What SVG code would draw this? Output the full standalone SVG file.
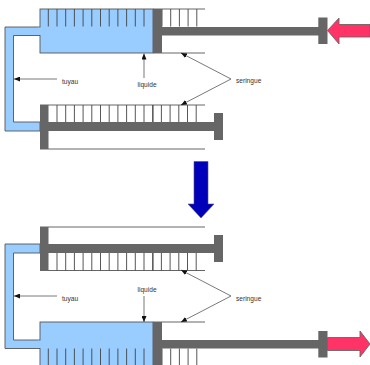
<svg xmlns="http://www.w3.org/2000/svg" width="370" height="365" viewBox="0 0 370 365">
<style>
.blue{fill:#99ccff;stroke:#555;stroke-width:.9}
.tube{fill:#99ccff;stroke:#555;stroke-width:.9}
.fill{fill:#99ccff;stroke:none}
.grey{fill:#666;stroke:none}
.wall{fill:none;stroke:#666;stroke-width:1}
.tick{stroke:#444;stroke-width:.9;fill:none}
.lead{stroke:#555;stroke-width:.8;fill:none}
.pink{fill:#ff3366;stroke:#666;stroke-width:.9}
text{font-family:"Liberation Sans",Arial,sans-serif;font-size:6.6px;fill:#333}
</style>
<defs>
<marker id="ah" markerUnits="userSpaceOnUse" markerWidth="6" markerHeight="5" refX="6" refY="2.5" orient="auto"><path d="M0 0L6 2.5L0 5Z" fill="#111"/></marker>
<path id="t12" d="M0 0v17.500M8.700 0v17.500M17.400 0v17.500M26.100 0v17.500M34.800 0v17.500M43.500 0v17.500M52.200 0v17.500M60.900 0v17.500M69.600 0v17.500M78.300 0v17.500M87 0v17.500M95.700 0v17.500"/>
<path id="t5" d="M0 0v17.500M8.700 0v17.500M17.400 0v17.500M26.100 0v17.500M34.800 0v17.500"/>
</defs>
<g id="tuyau-haut"><path class="tube" d="M40 27H5V131H40V122H13.500V35.500H40Z"/></g>
<g id="seringue-haut">
<rect class="blue" x="40" y="9" width="113" height="44"/>
<rect class="fill" x="38" y="27.500" width="4" height="7.500"/>
<path class="wall" d="M153 9H205M153 53H205"/>
<use href="#t12" class="tick" x="48.300" y="9"/>
<use href="#t5" class="tick" x="162" y="9"/>
<rect class="grey" x="153" y="9" width="9" height="44"/>
<rect class="grey" x="162" y="27" width="157" height="8.500"/>
<rect class="grey" x="318.300" y="17.500" width="9.200" height="26.500"/>
</g>
<g id="fleche-pousse"><path class="pink" d="M327.500 30.500L339 18V24.500H370V37H339V44Z"/></g>
<g id="seringue-milieu">
<path class="wall" d="M40 105H205M40 149H205"/>
<use href="#t12" class="tick" x="57" y="105"/>
<use href="#t5" class="tick" x="161.400" y="105"/>
<path class="tick" d="M153 105v17.500"/>
<rect class="grey" x="40" y="105" width="8.500" height="44"/>
<rect class="grey" x="48" y="122" width="167" height="9"/>
<rect class="grey" x="214" y="113" width="9" height="27"/>
</g>
<g id="fleche-bas"><path d="M194 161.500H208V204H214L201 218L188 204H194Z" fill="#0000bb" stroke="#556" stroke-width=".6"/></g>
<g id="tuyau-bas"><path class="tube" d="M40 244H5V348.500H40V340H13.500V253H40Z"/></g>
<g id="seringue-superieure">
<path class="wall" d="M40 227H205M40 270.500H205"/>
<use href="#t12" class="tick" x="57" y="253"/>
<use href="#t5" class="tick" x="161.400" y="253"/>
<path class="tick" d="M153 253v17.500"/>
<rect class="grey" x="40" y="227" width="8.500" height="44"/>
<rect class="grey" x="48" y="244" width="167" height="9"/>
<rect class="grey" x="214" y="235" width="9" height="27"/>
</g>
<g id="seringue-inferieure">
<rect class="blue" x="40" y="322" width="113" height="50"/>
<rect class="fill" x="38" y="340.500" width="4" height="7.500"/>
<path class="wall" d="M153 322H205"/>
<use href="#t12" class="tick" x="48.300" y="348.500"/>
<use href="#t5" class="tick" x="162" y="348.500"/>
<rect class="grey" x="153" y="322" width="9" height="44"/>
<rect class="grey" x="162" y="340" width="157" height="8.500"/>
<rect class="grey" x="318.300" y="331" width="9.200" height="26.500"/>
</g>
<g id="fleche-tire"><path class="pink" d="M327.500 337.500H360V331L370 344L360 357V350.500H327.500Z"/></g>
<g id="connecteurs">
<path class="lead" marker-end="url(#ah)" d="M57 79H14"/>
<path class="lead" marker-end="url(#ah)" d="M144 78V53.500"/>
<path class="lead" marker-end="url(#ah)" d="M231 79L181 53"/>
<path class="lead" marker-end="url(#ah)" d="M231 79L181 105"/>
<path class="lead" marker-end="url(#ah)" d="M57 296H14"/>
<path class="lead" marker-end="url(#ah)" d="M144 296V322"/>
<path class="lead" marker-end="url(#ah)" d="M231 296L181 270"/>
<path class="lead" marker-end="url(#ah)" d="M231 296L181 322"/>
</g>
<g id="labels">
<text x="62" y="83.500">tuyau</text>
<text x="137.500" y="86.500">liquide</text>
<text x="236" y="83">seringue</text>
<text x="62" y="301">tuyau</text>
<text x="137.500" y="292">liquide</text>
<text x="236" y="301">seringue</text>
</g>
</svg>
